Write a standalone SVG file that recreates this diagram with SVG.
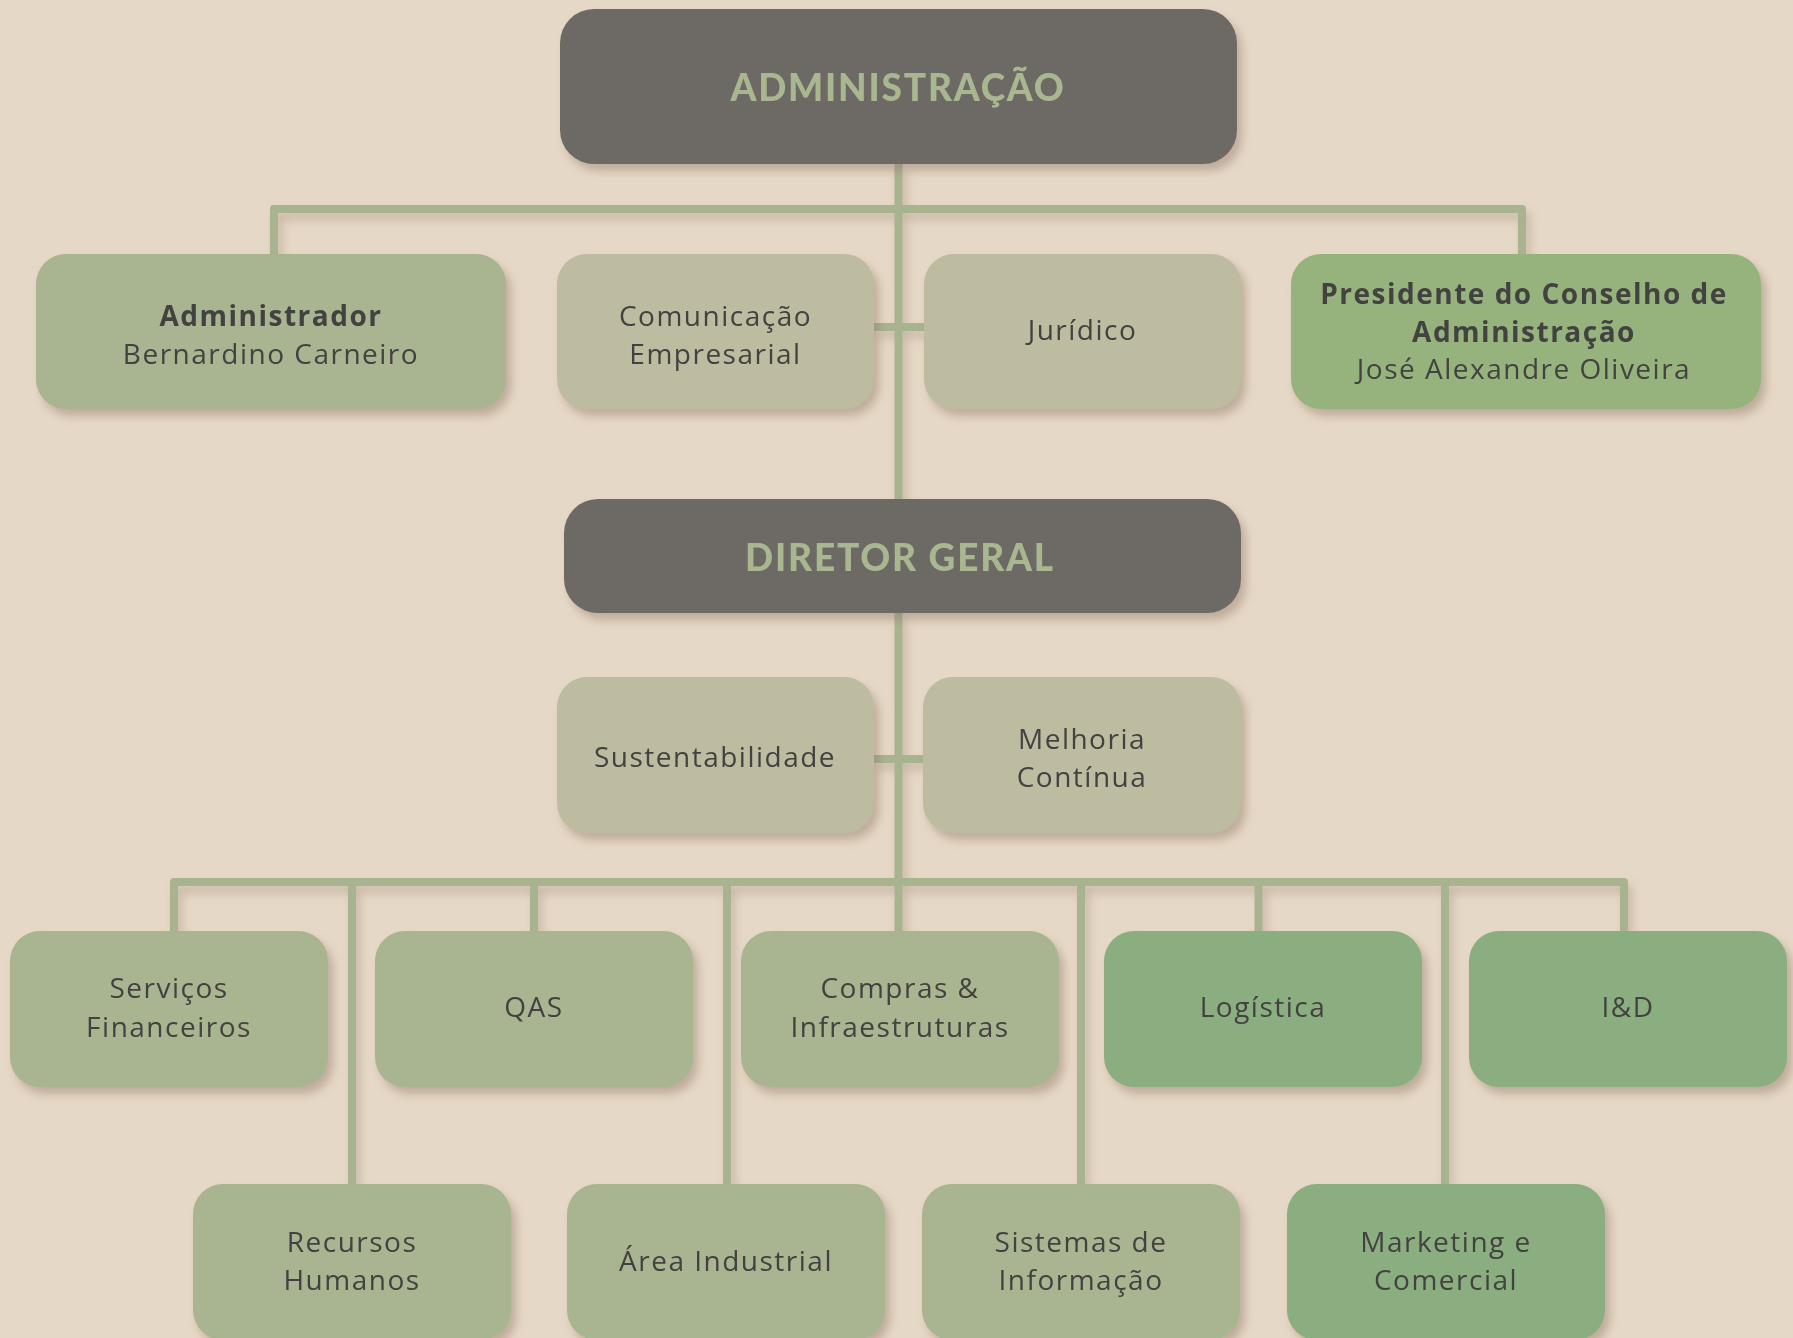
<svg xmlns="http://www.w3.org/2000/svg" width="1793" height="1338" viewBox="0 0 1793 1338">
<defs>
<filter id="sh" x="-10%" y="-10%" width="130%" height="140%">
<feDropShadow dx="5" dy="7" stdDeviation="5" flood-color="#8f7766" flood-opacity="0.45"/>
</filter>
<filter id="lsh" x="-5%" y="-5%" width="110%" height="120%">
<feDropShadow dx="4" dy="7" stdDeviation="5" flood-color="#8f7766" flood-opacity="0.35"/>
</filter>
<style>
.dark{fill:#6d6b65}
.sage{fill:#a9b491}
.beige{fill:#bdbba0}
.pres{fill:#97b37d}
.green{fill:#8bae80}
.box{filter:url(#sh)}
.title{font-family:"Lato","Open Sans",sans-serif;font-weight:900;font-size:37px;fill:#a9b791;letter-spacing:1.8px;text-anchor:middle}
.t{font-family:"Open Sans","Noto Sans",sans-serif;font-weight:500;font-size:28px;fill:#434240;letter-spacing:1.5px;text-anchor:middle}
.b{font-weight:700}
.ln{fill:none;stroke:#a8b390;stroke-width:8;stroke-linejoin:round}
</style>
</defs>
<rect width="1793" height="1338" fill="#e6d8c6"/>
<g id="connectors" filter="url(#lsh)">
<path class="ln" d="M898.5 163 V499"/>
<path class="ln" d="M898.5 613 V931"/>
<path class="ln" d="M274 254 V209 H1522 V254"/>
<path class="ln" d="M874 327 H924"/>
<path class="ln" d="M873 759 H923"/>
<path class="ln" d="M174 931 V882 H1624 V931"/>
<path class="ln" d="M352 882 V1184"/>
<path class="ln" d="M534 882 V931"/>
<path class="ln" d="M727 882 V1184"/>
<path class="ln" d="M1081 882 V1184"/>
<path class="ln" d="M1258.5 882 V931"/>
<path class="ln" d="M1445 882 V1184"/>
</g>
<g id="administracao" class="box"><rect class="dark" x="560" y="9" width="677" height="155" rx="34"/><text class="title" x="898" y="101">ADMINISTRAÇÃO</text></g>
<g id="administrador" class="box"><rect class="sage" x="36" y="254" width="470" height="155" rx="30"/><text class="t" x="271" y="326"><tspan class="b">Administrador</tspan><tspan x="271" y="364">Bernardino Carneiro</tspan></text></g>
<g id="comunicacao" class="box"><rect class="beige" x="557" y="254" width="317" height="155" rx="30"/><text class="t" x="715.5" y="326">Comunicação<tspan x="715.5" y="364">Empresarial</tspan></text></g>
<g id="juridico" class="box"><rect class="beige" x="924" y="254" width="317" height="155" rx="30"/><text class="t" x="1082.5" y="340">Jurídico</text></g>
<g id="presidente" class="box"><rect class="pres" x="1291" y="254" width="470" height="155" rx="30"/><text class="t" x="1524" y="304"><tspan class="b">Presidente do Conselho de</tspan><tspan class="b" x="1524" y="342">Administração</tspan><tspan x="1524" y="379">José Alexandre Oliveira</tspan></text></g>
<g id="diretor" class="box"><rect class="dark" x="564" y="499" width="677" height="114" rx="34"/><text class="title" x="900" y="571">DIRETOR GERAL</text></g>
<g id="sustentabilidade" class="box"><rect class="beige" x="557" y="677" width="317" height="156" rx="30"/><text class="t" x="715" y="767">Sustentabilidade</text></g>
<g id="melhoria" class="box"><rect class="beige" x="923" y="677" width="318" height="156" rx="30"/><text class="t" x="1082" y="749">Melhoria<tspan x="1082" y="787">Contínua</tspan></text></g>
<g id="servicos" class="box"><rect class="sage" x="10" y="931" width="318" height="156" rx="30"/><text class="t" x="169" y="998">Serviços<tspan x="169" y="1037">Financeiros</tspan></text></g>
<g id="qas" class="box"><rect class="sage" x="375" y="931" width="318" height="156" rx="30"/><text class="t" x="534" y="1017">QAS</text></g>
<g id="compras" class="box"><rect class="sage" x="741" y="931" width="318" height="156" rx="30"/><text class="t" x="900" y="998">Compras &amp;<tspan x="900" y="1037">Infraestruturas</tspan></text></g>
<g id="logistica" class="box"><rect class="green" x="1104" y="931" width="318" height="156" rx="30"/><text class="t" x="1263" y="1017">Logística</text></g>
<g id="id" class="box"><rect class="green" x="1469" y="931" width="318" height="156" rx="30"/><text class="t" x="1628" y="1017">I&amp;D</text></g>
<g id="recursos" class="box"><rect class="sage" x="193" y="1184" width="318" height="156" rx="30"/><text class="t" x="352" y="1252">Recursos<tspan x="352" y="1290">Humanos</tspan></text></g>
<g id="area" class="box"><rect class="sage" x="567" y="1184" width="318" height="156" rx="30"/><text class="t" x="726" y="1271">Área Industrial</text></g>
<g id="sistemas" class="box"><rect class="sage" x="922" y="1184" width="318" height="156" rx="30"/><text class="t" x="1081" y="1252">Sistemas de<tspan x="1081" y="1290">Informação</tspan></text></g>
<g id="marketing" class="box"><rect class="green" x="1287" y="1184" width="318" height="156" rx="30"/><text class="t" x="1446" y="1252">Marketing e<tspan x="1446" y="1290">Comercial</tspan></text></g>
</svg>
